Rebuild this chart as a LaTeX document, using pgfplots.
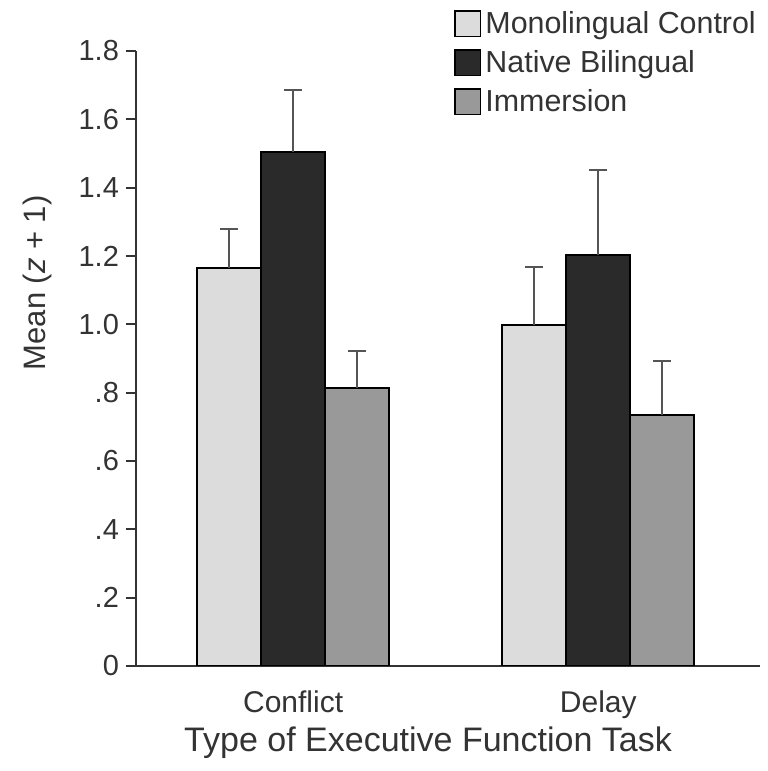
\documentclass[border=0pt]{standalone}
\usepackage{pgfplots}
\pgfplotsset{compat=1.18}
\usepackage{fontspec}
\setmainfont{Liberation Sans}
\definecolor{lightbar}{HTML}{DCDCDC}
\definecolor{darkbar}{HTML}{2A2A2A}
\definecolor{midbar}{HTML}{999999}
\definecolor{axisgray}{HTML}{333333}
\definecolor{errgray}{HTML}{555555}
\begin{document}
\begin{tikzpicture}
\useasboundingbox (-68pt,-52.5pt) rectangle (315.5pt,333pt);
\begin{axis}[
  scale only axis, width=312pt, height=307.5pt,
  xmin=-0.515, xmax=1.53, ymin=0, ymax=1.8,
  ybar, bar width=0.21,
  axis x line*=bottom, axis y line*=left,
  axis line style={axisgray, line width=1pt},
  xtick={0,1}, xticklabels={Conflict,Delay},
  major x tick style={draw=none},
  ytick={0,0.2,0.4,0.6,0.8,1.0,1.2,1.4,1.6,1.8},
  yticklabels={0,.2,.4,.6,.8,1.0,1.2,1.4,1.6,1.8},
  tick align=outside, major tick length=5pt,
  major y tick style={axisgray,line width=1pt},
  /pgf/number format/assume math mode=true,
  tick label style={font=\fontsize{14.5}{16}\selectfont, text=axisgray},
  xticklabel style={yshift=-4pt, font=\fontsize{15}{17}\selectfont},
  xlabel={Type of Executive Function Task},
  xlabel style={at={(axis description cs:0.468,-0.125)}, anchor=center, font=\fontsize{17}{19}\selectfont, text=axisgray},
  ylabel={Mean (\textit{z} + 1)},
  ylabel style={at={(axis description cs:-0.158,0.623)}, anchor=center, font=\fontsize{15.5}{18}\selectfont, text=axisgray},
  legend style={at={(axis description cs:1.01,1.078)}, anchor=north east, draw=none, fill=none,
    font=\fontsize{15.2}{17}\selectfont, text=axisgray, row sep=3pt},
  legend cell align=left,
  legend image code/.code={\draw[#1, draw=black, line width=0.9pt] (0pt,-6.3pt) rectangle (12.6pt,6.3pt);},
  error bars/y dir=plus, error bars/y explicit,
  error bars/error bar style={errgray, line width=1pt},
  error bars/error mark options={errgray, line width=1pt, mark size=4.5pt, rotate=90},
]
\addplot[fill=lightbar, draw=black, line width=1pt, bar shift=-0.21] coordinates {(0,1.165) +- (0,0.115) (1,0.997) +- (0,0.172)};
\addplot[fill=darkbar, draw=black, line width=1pt, bar shift=0] coordinates {(0,1.505) +- (0,0.180) (1,1.203) +- (0,0.250)};
\addplot[fill=midbar, draw=black, line width=1pt, bar shift=0.21] coordinates {(0,0.815) +- (0,0.107) (1,0.735) +- (0,0.157)};
\legend{Monolingual Control, Native Bilingual, Immersion}
\end{axis}
\end{tikzpicture}
\end{document}
